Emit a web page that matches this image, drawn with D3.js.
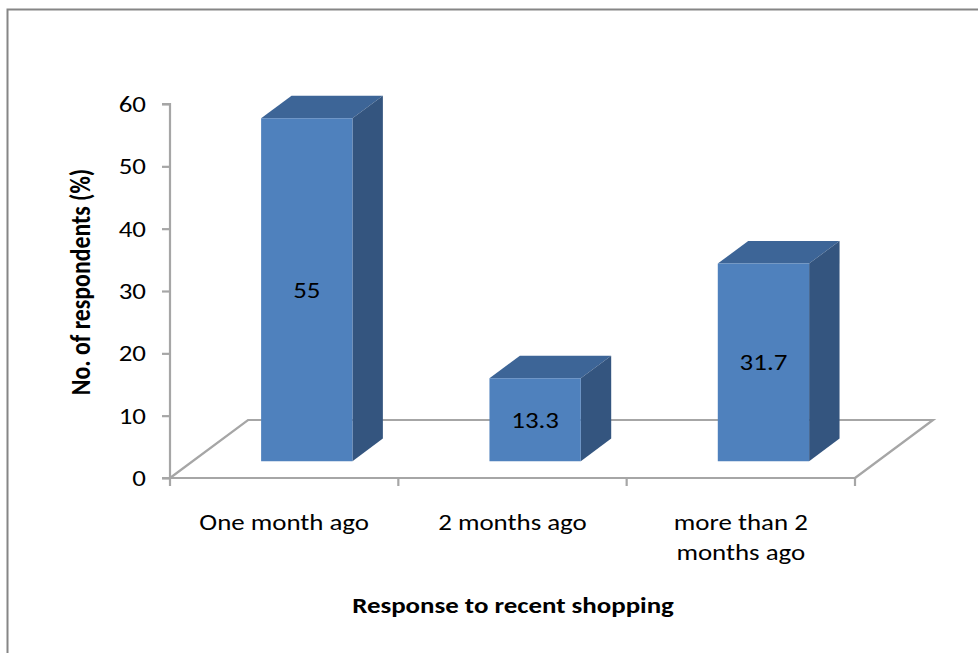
<!DOCTYPE html>
<html>
<head>
<meta charset="utf-8">
<script src="https://cdn.jsdelivr.net/npm/d3@7"></script>
<style>
  html, body { margin: 0; padding: 0; background: #fff; }
  svg { display: block; }
  text { font-family: Carlito, Lato, "Open Sans", sans-serif; fill: #000; }
</style>
</head>
<body>
<svg id="chart" width="978" height="653"></svg>
<script>
// Survey responses: time since most recent shopping trip
const categories = ["One month ago", "2 months ago", "more than 2 months ago"];
const categoryLines = [["One month ago"], ["2 months ago"], ["more than 2", "months ago"]];
const values = [55, 13.3, 31.7];
const yTicks = [0, 10, 20, 30, 40, 50, 60];
const yTitle = "No. of respondents (%)";
const xTitle = "Response to recent shopping";

const svg = d3.select("#chart");

// Text is drawn slightly widened horizontally
const stretch = 1.17;
const fontSize = 23;

// Plot frame (front plane of the 3D floor) and depth offset of the floor
const x0 = 170, x1 = 855, yBase = 478, yTop = 104;
const depthX = 78, depthY = -58;
const barFront = 0.29, barBack = 0.68;   // bar depth as fractions of the floor depth
const barWidthFrac = 0.4;

const x = d3.scaleBand().domain(categories).range([x0, x1]).paddingInner(0).paddingOuter(0);
const y = d3.scaleLinear().domain([0, 60]).range([yBase, yTop]);

// Project a point (px on the front plane, value, depth fraction) into screen space
const proj = (px, v, d) => [px + depthX * d, y(v) + depthY * d];

// Horizontal text placed at (tx, ty) with the widening applied around its anchor
function label(parent, tx, ty, str, opts = {}) {
  return parent.append("text")
    .attr("transform", `translate(${tx},${ty}) scale(${stretch},1)`)
    .attr("text-anchor", opts.anchor || "middle")
    .attr("dy", opts.dy || null)
    .attr("font-size", opts.size || fontSize)
    .attr("font-weight", opts.weight || null)
    .text(str);
}

// Chart area border
svg.append("path")
  .attr("d", `M7.5,653 V9.5 H978`)
  .attr("fill", "none").attr("stroke", "#868686").attr("stroke-width", 2);

const gray = "#a6a6a6";

// Floor outline
const floor = [proj(x0, 0, 0), proj(x1, 0, 0), proj(x1, 0, 1), proj(x0, 0, 1)];
svg.append("path")
  .attr("d", `M${floor[0]} L${floor[3]} L${floor[2]} L${floor[1]}`)
  .attr("fill", "none").attr("stroke", gray).attr("stroke-width", 2.2);

// Value axis
const yAxis = d3.axisLeft(y).tickValues(yTicks).tickSize(8).tickPadding(16);
const gy = svg.append("g").attr("transform", `translate(${x0},0)`).call(yAxis);
gy.select(".domain").attr("stroke", gray).attr("stroke-width", 2.2).attr("d", `M-8,${yTop}H0V${yBase}H-8`);
gy.selectAll(".tick line").attr("stroke", gray).attr("stroke-width", 2.2);
gy.selectAll(".tick text")
  .attr("x", 0)
  .attr("transform", `translate(-24,0) scale(${stretch},1)`)
  .attr("font-size", fontSize)
  .attr("font-family", "Carlito, Lato, 'Open Sans', sans-serif")
  .attr("fill", "#000");

// Category axis along the front edge of the floor
const gx = svg.append("g");
gx.append("line").attr("x1", x0 - 8).attr("x2", x1).attr("y1", yBase).attr("y2", yBase)
  .attr("stroke", gray).attr("stroke-width", 2.2);
const boundaries = categories.map(c => x(c)).concat([x1]);
gx.selectAll("line.tk").data(boundaries).join("line").attr("class", "tk")
  .attr("x1", d => d).attr("x2", d => d).attr("y1", yBase).attr("y2", yBase + 8)
  .attr("stroke", gray).attr("stroke-width", 2.2);
categories.forEach((c, i) => {
  categoryLines[i].forEach((ln, j) => {
    label(gx, x(c) + x.bandwidth() / 2, 530 + j * 30, ln);
  });
});

// 3D bars
const bw = x.bandwidth() * barWidthFrac;
const bars = svg.append("g");
categories.forEach((c, i) => {
  const v = values[i];
  const cx = x(c) + x.bandwidth() / 2;
  const L = cx - bw / 2, R = cx + bw / 2;
  const fBL = proj(L, 0, barFront), fBR = proj(R, 0, barFront);
  const fTL = proj(L, v, barFront), fTR = proj(R, v, barFront);
  const bTL = proj(L, v, barBack), bTR = proj(R, v, barBack), bBR = proj(R, 0, barBack);
  const g = bars.append("g");
  g.append("path").attr("d", `M${fTL}L${bTL}L${bTR}L${fTR}Z`).attr("fill", "#3d6597");
  g.append("path").attr("d", `M${fTR}L${bTR}L${bBR}L${fBR}Z`).attr("fill", "#34557f");
  g.append("path").attr("d", `M${fBL}L${fTL}L${fTR}L${fBR}Z`).attr("fill", "#4f81bd");
  label(g, (fBL[0] + fBR[0]) / 2, (fBL[1] + fTL[1]) / 2, String(v), { dy: "0.35em" });
});

// Axis titles
svg.append("text")
  .attr("transform", `translate(90,282) scale(${stretch},1) rotate(-90)`)
  .attr("text-anchor", "middle").attr("font-size", 23.8).attr("font-weight", "bold")
  .text(yTitle);
label(svg, 513, 613, xTitle, { weight: "bold" });
</script>
</body>
</html>
